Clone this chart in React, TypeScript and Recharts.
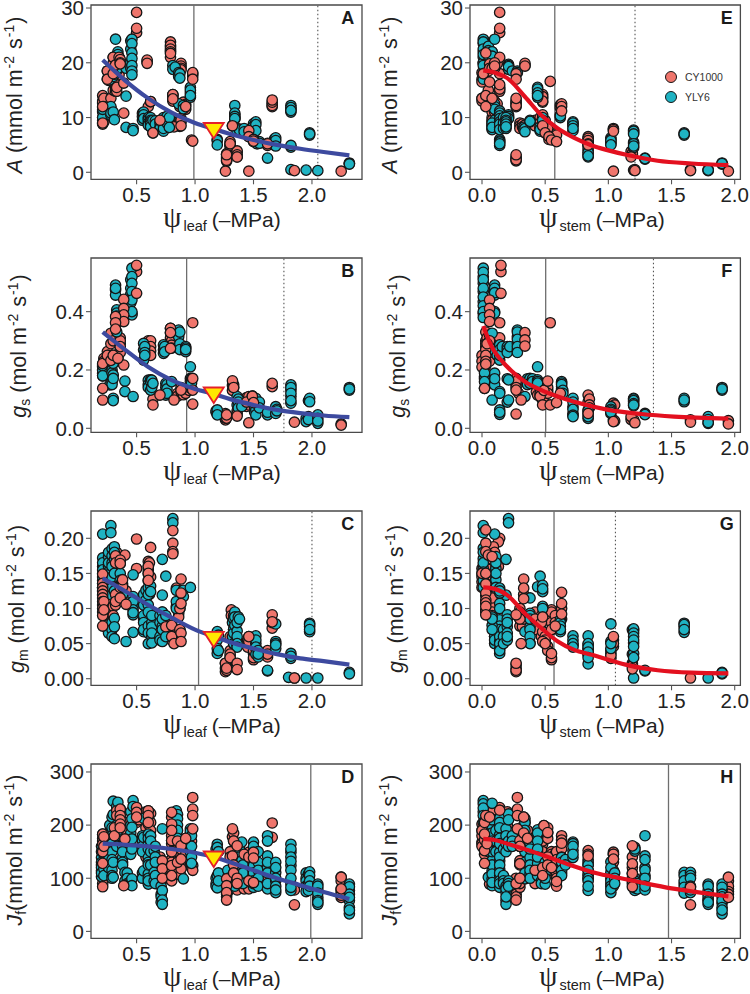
import { ComposedChart, ReferenceArea, ReferenceLine, Scatter, XAxis, YAxis } from "recharts";

// each row is [x, y, y, y...], the water potentials are discrete so points stack in columns
const A_CY = [[0.5, 25.5], [0.21, 14, 12.5, 11.8, 9.5, 9, 13, 12.8, 11.2, 10, 8.8], [0.22, 13.5, 12, 10.5, 9.2], [0.25, 18.5, 17], [0.26, 17.5, 16.8, 18], [0.28, 13.5, 16.9], [0.3, 21, 18, 19.5, 20, 15], [0.32, 16.5, 15.5, 14.8, 17.8], [0.33, 17, 16, 15.5, 14.8], [0.35, 21, 18.5, 17.8], [0.79, 22.9, 22.2, 21], [0.59, 20.2], [0.88, 19.9, 19.4, 19, 18.7, 9.8, 9.2], [0.81, 14.2, 13.5, 14, 13], [0.87, 12, 9.5, 9, 8.4], [0.9, 12.8, 11.8], [0.92, 12.4, 11.5], [0.82, 8.3], [0.97, 5.9], [0.98, 17.6, 18], [0.6, 12], [0.64, 7.2], [0.7, 9.5], [0.62, 12.9], [1.27, 3.2, 2.5, 2, 3.4, 2.8, 2.2], [1.3, 5.2, 4.7, 5.6, 4.9], [1.32, 8.5], [1.36, 3.7, 2.8, 3.9, 3.2], [1.45, 7.2, 6.9], [1.46, 7.6, 6.5], [1.5, 6.3, 5.9, 5.6, 6], [1.62, 5.3, 4.9], [1.66, 12, 12.5, 12.2, 12.8]];
const A_YLY = [[0.21, 11, 10, 11.5], [0.27, 16.9, 17.4, 18], [0.28, 11.7, 10.4, 18, 17.5, 12, 10.8], [0.3, 17.5, 11], [0.31, 9.6, 17.9], [0.32, 24.3], [0.33, 21, 19.5, 18.5], [0.34, 22, 21.5, 20.8, 19], [0.41, 19, 13.9, 8.2], [0.45, 24, 22.5, 20, 19], [0.46, 24.3, 23.5, 21.8, 20.8, 19.5, 18.5, 17.8], [0.47, 8, 7.6], [0.55, 10.8, 10.2, 9.5], [0.56, 11, 10.5, 9.8], [0.6, 10, 9.6, 9, 8.6], [0.62, 10, 9.5, 9.2, 8.5, 8.8, 8.3], [0.64, 9.5], [0.66, 9.4, 8.8], [0.7, 9, 8.2, 8], [0.73, 10, 9.2, 8.5, 7.8, 7.5, 9.5, 8.8, 8], [0.76, 10.2, 9], [0.78, 10, 8.2], [0.81, 19.5, 18.8], [0.83, 19.2], [0.86, 18.2, 17.5, 12.5], [0.87, 18, 17.2], [0.9, 12.2, 11.6], [0.96, 15.5, 14.5, 13.7, 15, 14], [1.19, 6, 5.8, 5], [1.34, 12.2, 10.5, 10, 9.7, 10.8, 10.2, 9.8], [1.36, 8, 7.5], [1.38, 7.9, 7.7], [1.42, 8, 7.4], [1.5, 8.9, 8.4], [1.52, 9.2, 8.7, 7.6], [1.53, 5.5, 5.2], [1.55, 5.6, 5.3], [1.62, 2.6], [1.68, 6.1, 5.2, 5], [1.69, 6.3, 5.8, 4.8], [1.82, 12.2, 11.5, 11, 4.6, 0.5, 11.8, 11.3, 4.9], [1.95, 0.4], [1.98, 7.2, 6.8, 7], [2.05, 0.3], [2.32, 1.7, 1.6, 1.5]];
const A_TOP = [[0.5, 29.2, 26.3], [0.21, 12, 9], [0.25, 18.5, 17], [0.3, 21, 18], [0.32, 19.6], [0.33, 15.5], [0.35, 21], [0.36, 20.6, 20, 19.8], [0.39, 16.3, 10.8], [0.59, 20.5, 19.9], [0.62, 12.9], [0.64, 7.2], [0.7, 9.5], [0.79, 23.8, 23.2, 22.5, 22, 21.7], [0.98, 18.2, 17, 5.7], [0.81, 14.2, 13.4], [0.88, 9.5, 8.5], [0.92, 12], [1.26, 0.2], [1.27, 3.2], [1.3, 5.2], [1.32, 8.5], [1.36, 2.8], [1.46, 7.6, 6.5, 0.2], [1.5, 6, 5.7], [1.62, 5.2], [1.66, 13.2], [1.85, 0.3], [2.25, 0.2]];

const B_CY = [[0.5, 0.537], [0.21, 0.21, 0.19, 0.22, 0.2, 0.18], [0.22, 0.24, 0.23], [0.25, 0.263, 0.246], [0.26, 0.25, 0.235], [0.28, 0.326, 0.29, 0.234], [0.3, 0.3, 0.25, 0.24], [0.33, 0.245, 0.23], [0.34, 0.246, 0.24], [0.36, 0.31, 0.29, 0.3, 0.27, 0.26], [0.58, 0.29, 0.27, 0.25], [0.6, 0.3, 0.29, 0.28, 0.27, 0.26], [0.62, 0.3, 0.28, 0.265, 0.25], [0.79, 0.343, 0.328, 0.31, 0.291], [0.8, 0.33, 0.3, 0.285, 0.275], [0.85, 0.12, 0.11], [0.88, 0.14, 0.125], [0.9, 0.115, 0.13], [0.92, 0.12], [0.95, 0.13, 0.14], [0.64, 0.1], [1.26, 0.029, 0.05, 0.035], [1.27, 0.035], [1.32, 0.148, 0.13], [1.33, 0.15, 0.14], [1.36, 0.06, 0.05], [1.44, 0.105, 0.09, 0.075], [1.46, 0.109, 0.08], [1.49, 0.1, 0.11], [1.66, 0.143]];
const B_YLY = [[0.21, 0.211, 0.189, 0.2, 0.215, 0.18], [0.27, 0.149], [0.29, 0.2, 0.19, 0.16, 0.15], [0.3, 0.223, 0.183, 0.171, 0.103, 0.095], [0.32, 0.491, 0.474, 0.457, 0.48], [0.33, 0.406, 0.331, 0.395, 0.385, 0.36], [0.4, 0.162, 0.126], [0.45, 0.51, 0.48, 0.46, 0.43], [0.46, 0.549, 0.52, 0.497, 0.469, 0.44, 0.394, 0.389, 0.4], [0.47, 0.109], [0.56, 0.291, 0.269, 0.234], [0.57, 0.28, 0.26, 0.25], [0.6, 0.165, 0.15, 0.14], [0.62, 0.166, 0.16, 0.131], [0.63, 0.165, 0.14], [0.64, 0.154], [0.73, 0.286, 0.269, 0.257], [0.74, 0.28, 0.262], [0.75, 0.154, 0.14, 0.126, 0.114], [0.76, 0.15, 0.135, 0.12], [0.8, 0.16], [0.86, 0.337, 0.314, 0.28], [0.87, 0.33, 0.29, 0.27], [0.92, 0.28, 0.263, 0.275, 0.27], [0.96, 0.211, 0.171, 0.16, 0.143], [0.97, 0.17, 0.155], [1.18, 0.055, 0.06], [1.19, 0.063, 0.046], [1.36, 0.109, 0.08], [1.37, 0.1, 0.09, 0.07], [1.4, 0.075], [1.51, 0.095, 0.07, 0.055], [1.52, 0.103, 0.086, 0.063, 0.046], [1.55, 0.09, 0.07], [1.62, 0.046, 0.055], [1.69, 0.074, 0.051], [1.7, 0.065, 0.06], [1.82, 0.149, 0.131, 0.109, 0.086, 0.14, 0.12, 0.095], [1.95, 0.034, 0.023], [1.97, 0.04, 0.03, 0.095], [1.98, 0.103, 0.091], [2.05, 0.046, 0.034, 0.017, 0.025], [2.32, 0.14, 0.131, 0.135]];
const B_TOP = [[0.5, 0.559, 0.463], [0.39, 0.442, 0.411, 0.389, 0.366, 0.217], [0.32, 0.383, 0.362, 0.34], [0.36, 0.28], [0.21, 0.222, 0.137, 0.097], [0.25, 0.25], [0.28, 0.233], [0.3, 0.25], [0.34, 0.24], [0.98, 0.362, 0.171, 0.131, 0.083], [0.79, 0.343, 0.328, 0.274], [0.64, 0.08], [0.7, 0.114], [0.82, 0.097], [0.88, 0.131], [1.32, 0.163], [1.33, 0.14], [1.27, 0.046], [1.36, 0.042], [1.44, 0.09], [1.46, 0.019], [1.49, 0.11], [1.5, 0.088], [1.66, 0.154], [1.85, 0.021], [2.25, 0.015, 0.011]];

const C_CY = [[0.21, 0.136, 0.13, 0.125, 0.14, 0.128, 0.118, 0.105], [0.22, 0.135, 0.13, 0.11, 0.098, 0.09], [0.25, 0.12, 0.115, 0.105, 0.095], [0.29, 0.115, 0.105, 0.08], [0.3, 0.117, 0.11, 0.103, 0.09], [0.32, 0.175, 0.165, 0.12, 0.115, 0.105], [0.33, 0.18, 0.17], [0.36, 0.169, 0.164, 0.13, 0.125, 0.115], [0.38, 0.12, 0.11], [0.41, 0.125], [0.5, 0.157], [0.6, 0.167, 0.155, 0.16, 0.15, 0.14], [0.61, 0.165, 0.12, 0.095], [0.72, 0.095], [0.73, 0.09, 0.08], [0.75, 0.084, 0.074], [0.77, 0.07, 0.06], [0.8, 0.076, 0.067, 0.08, 0.06, 0.055], [0.84, 0.129], [0.86, 0.093, 0.088], [0.87, 0.125, 0.1, 0.07], [0.88, 0.142], [1.26, 0.022, 0.015, 0.01], [1.27, 0.02, 0.012, 0.018], [1.3, 0.03, 0.04, 0.06], [1.31, 0.098, 0.09], [1.33, 0.05, 0.07], [1.45, 0.055, 0.045], [1.46, 0.06, 0.053], [1.5, 0.036, 0.027, 0.03, 0.04], [1.62, 0.04, 0.031, 0.035], [1.66, 0.072, 0.08], [1.85, 0.001]];
const C_YLY = [[0.21, 0.206, 0.172, 0.16, 0.15, 0.165, 0.155, 0.145, 0.13], [0.26, 0.174, 0.16, 0.152, 0.14, 0.065, 0.18, 0.165, 0.148, 0.13, 0.12], [0.28, 0.218, 0.208], [0.29, 0.185, 0.175, 0.165, 0.16, 0.145, 0.13, 0.08, 0.07, 0.06], [0.31, 0.188, 0.17, 0.15, 0.086, 0.074, 0.057, 0.18, 0.125], [0.36, 0.15, 0.14, 0.125], [0.37, 0.136, 0.122], [0.38, 0.135, 0.12], [0.41, 0.053], [0.47, 0.148, 0.117, 0.103, 0.091, 0.066, 0.11, 0.098, 0.094], [0.56, 0.084, 0.067, 0.12, 0.105, 0.09, 0.08, 0.07], [0.58, 0.126, 0.112], [0.6, 0.13, 0.12, 0.105, 0.095, 0.075, 0.065, 0.05], [0.62, 0.132, 0.124], [0.63, 0.08, 0.074, 0.06, 0.051, 0.09, 0.065], [0.7, 0.09, 0.08, 0.06, 0.055], [0.72, 0.17, 0.119, 0.095, 0.075, 0.053, 0.085, 0.07], [0.75, 0.146, 0.09, 0.06], [0.81, 0.228, 0.222], [0.84, 0.103, 0.126, 0.11, 0.1], [0.9, 0.126, 0.117], [0.96, 0.13], [1.19, 0.067, 0.055, 0.043, 0.036], [1.2, 0.062, 0.04], [1.32, 0.08, 0.06], [1.33, 0.09, 0.085, 0.07, 0.065, 0.05], [1.34, 0.095, 0.088, 0.076], [1.37, 0.088], [1.36, 0.068, 0.055, 0.048, 0.08, 0.06, 0.05, 0.045], [1.38, 0.085], [1.52, 0.061, 0.05, 0.043, 0.055, 0.045, 0.035], [1.54, 0.031, 0.04, 0.035], [1.62, 0.011, 0.012], [1.69, 0.078, 0.053, 0.043, 0.05, 0.048], [1.82, 0.036, 0.029, 0.032], [1.8, 0.002], [1.95, 0.001], [1.98, 0.079, 0.074, 0.067, 0.077, 0.07], [2.05, 0.001], [2.32, 0.009, 0.007]];
const C_TOP = [[0.5, 0.199], [0.62, 0.187, 0.145], [0.81, 0.211, 0.193, 0.181, 0.178], [0.4, 0.176], [0.21, 0.149, 0.136, 0.13, 0.125, 0.12, 0.115, 0.11, 0.1, 0.095, 0.09, 0.075], [0.22, 0.11, 0.098], [0.32, 0.175, 0.165, 0.12, 0.11], [0.36, 0.169, 0.164, 0.13, 0.115], [0.38, 0.131, 0.141], [0.41, 0.106], [0.6, 0.16, 0.15, 0.14], [0.75, 0.074], [0.8, 0.076, 0.06], [0.82, 0.05], [0.87, 0.1, 0.07], [0.88, 0.065, 0.053, 0.122, 0.107], [1.26, 0.022], [1.27, 0.015], [1.3, 0.035, 0.03], [1.36, 0.022, 0.013], [1.46, 0.06], [1.66, 0.091, 0.081], [1.85, 0.001]];

const D_CY = [[0.21, 183, 164, 152, 130, 175, 170, 158, 145, 140, 120, 105, 100, 90], [0.22, 178, 160, 150, 135], [0.28, 190, 175, 160, 150], [0.3, 190, 170], [0.31, 215, 195, 180, 170], [0.33, 227, 210, 218, 200, 175], [0.36, 230, 218, 202, 225, 210, 195, 165], [0.4, 205, 190, 170], [0.5, 233, 224, 215, 205], [0.52, 220, 210], [0.58, 225, 210, 195, 140], [0.6, 227, 218, 202], [0.62, 222, 205, 190], [0.7, 140, 125, 110], [0.72, 133, 120, 102], [0.74, 128, 115, 100], [0.8, 171, 136, 124, 95, 215, 180, 165, 150, 130, 115, 105], [0.85, 170, 150, 130, 120, 110], [0.88, 161, 136, 124, 105, 155, 118], [0.92, 175, 165, 145], [0.97, 190, 170, 120], [0.98, 124, 115], [1.27, 99, 86, 73, 105, 92, 80, 65, 70], [1.3, 150, 140], [1.32, 178], [1.33, 185, 170, 125, 110, 95], [1.36, 111, 95, 83, 115, 105, 90, 78], [1.42, 145, 130, 85, 80], [1.46, 149, 86, 140, 95, 80], [1.5, 149, 92, 145, 130, 100, 85], [1.56, 110, 95], [1.62, 89, 100, 85], [1.66, 177], [1.85, 83, 78], [2.25, 102, 80, 64, 95, 75, 70, 68]];
const D_YLY = [[0.2, 139, 114, 103, 125, 160, 150, 130, 120, 110], [0.22, 130, 118, 105], [0.25, 150, 170], [0.26, 185, 170, 150, 135, 120], [0.27, 200], [0.29, 215, 195, 180, 165, 150, 135, 115, 105, 100], [0.3, 245, 220, 130, 102], [0.33, 235, 200, 180, 160], [0.34, 243, 190], [0.38, 139, 160, 150, 130, 125], [0.4, 111, 95], [0.42, 110, 100, 90], [0.45, 225, 200, 185, 165, 145, 95, 90], [0.46, 212, 196, 174, 155, 99, 86], [0.47, 246, 235], [0.55, 180, 170, 160, 150, 110, 100], [0.56, 213, 177, 114], [0.6, 183, 164, 139, 108, 89, 175, 155, 130, 125, 100, 95], [0.62, 180, 170, 150, 125], [0.65, 152, 111, 95], [0.66, 160, 140, 130, 105, 90], [0.71, 85, 70, 65, 55], [0.72, 193, 77, 59, 51], [0.84, 227, 208], [0.85, 220, 212, 200, 190, 175], [0.9, 99], [0.96, 193, 188, 149, 130], [0.97, 180, 160, 140, 128], [1.18, 155, 100, 90, 85], [1.19, 164, 158, 105, 82], [1.2, 150, 110, 95], [1.28, 115, 100, 85, 75], [1.34, 120, 99, 140, 130, 110, 90, 85], [1.38, 155, 140, 125, 100], [1.4, 168, 133], [1.41, 125, 110, 90], [1.5, 168, 152, 124, 102, 83, 160, 140, 110, 95, 90], [1.54, 150, 130, 115, 100, 85], [1.62, 180, 142, 120, 80, 170, 130, 110, 90], [1.69, 130, 111, 95, 73, 120, 100, 85, 78], [1.82, 164, 149, 124, 89, 77, 155, 140, 132, 115, 100, 83], [1.95, 110, 100, 95, 85, 75], [1.97, 108, 89, 77], [1.98, 112, 105, 95, 85], [2.05, 89, 80, 64, 51, 85, 72, 58, 55], [2.32, 89, 77, 58, 33, 84, 70, 64, 45, 40]];
const D_TOP = [[0.98, 252, 230, 218, 193], [0.21, 183, 164, 150, 128, 84], [0.22, 178, 160], [0.31, 195, 180], [0.33, 227, 218], [0.36, 230, 218, 210, 202, 195], [0.4, 174], [0.39, 86], [0.5, 233, 224, 215], [0.6, 227, 218, 205], [0.72, 133, 118, 100], [0.8, 224, 202, 190, 171, 150, 124, 105], [0.85, 170, 130], [0.88, 161, 136], [0.92, 175], [1.27, 99, 86, 73, 59], [1.32, 193, 142], [1.33, 170, 125, 110], [1.36, 161, 100, 90], [1.42, 145], [1.46, 140, 95], [1.5, 149, 138, 92], [1.66, 204], [1.85, 50], [2.25, 102, 80]];

const E_CY = [[0.14, 25.5, 20.5, 15.5, 14.8, 18, 15.2], [0.01, 22, 20, 18], [0.03, 23.8, 23.2, 22.5, 21.5, 22, 20, 19], [0.02, 18.5, 17], [0, 18.2, 17, 13.5, 16.5, 13], [0.05, 20.5, 18.5, 15], [0.08, 10, 9.2, 8.6, 19, 13.5, 11, 9.5], [0.1, 20, 19.4, 13, 19, 12, 11], [0.12, 19.8, 12.5, 10], [0.27, 13, 12.5, 12, 2.5, 2.1, 12.8, 12.2, 2.8, 2.3], [0.3, 9, 8.5, 8], [0.32, 8.8, 8.3], [0.34, 19.5, 8.6], [0.42, 9.5, 8.5], [0.46, 10, 9, 8], [0.48, 14.2, 13.5, 12.8, 13.8, 13, 10.5], [0.5, 9.5, 8, 7.2], [0.53, 7.2, 6.5, 6], [0.55, 7, 7.5], [0.58, 6.2, 7], [0.59, 6.8], [0.52, 8], [0.62, 12.3, 11.8], [0.63, 12.5, 12], [0.84, 6.5, 6, 5.5, 6.2, 5.8, 5.2], [1.04, 8, 7.8], [1.18, 3.8], [1.19, 3.3, 3.5], [1.2, 0.4], [1.21, 0.5]];
const E_YLY = [[0.01, 24.3, 23.5, 21, 20, 17, 23.8, 22.5, 21.5, 19.5, 18], [0.05, 23, 22.2, 21.3], [0.1, 24.3, 12.5, 11.8, 12, 11.5, 9.5], [0.08, 22, 21.5, 8.5, 8, 7.8, 22, 21.2, 9, 8.2], [0.21, 19.7, 19.5, 18.8, 10.5, 10, 19.3, 10.2, 9.8], [0.24, 18.5], [0.28, 18.5, 18.2], [0.14, 11.2, 10, 9.5, 8.2, 6, 5.7, 4.9, 10.8, 10.3, 9.8, 9.2, 8.8, 7.8, 5.5, 5.2], [0.17, 10, 9, 8], [0.19, 10, 9, 8.5, 8, 9.5, 9.2, 8.8, 8.3], [0.33, 8.2, 7.8], [0.34, 8, 7.4], [0.38, 9.5, 9.2, 9.3], [0.44, 15.5, 14.8, 14.3, 13.7, 15.2, 14.5, 14], [0.46, 8, 7.5, 8.3, 7.8], [0.48, 10, 9, 9.5], [0.62, 10.5, 10, 10.3], [0.72, 9.2, 8.7, 7.6, 9, 8.5, 8], [0.84, 5, 4, 3.3, 2.8, 4.5, 3.6, 3], [1.02, 6.3, 6, 5.5, 5.2, 5.8, 5], [1.2, 7.7, 7.2, 5.5, 4.5, 7.5, 7, 5.2, 4.8], [1.29, 2.6, 2.4, 2.5], [1.6, 7.2, 6.8, 7], [1.65, 0.5], [1.79, 0.5, 0.3, 0.4], [1.9, 1.7, 1.5, 1.6]];
const E_TOP = [[0.14, 29.2, 26.3, 21, 16], [0.01, 18], [0, 13.5], [0.03, 21.8, 14, 12], [0.06, 19.8, 19, 16.5], [0.08, 19, 13.5], [0.1, 20, 19.4], [0.34, 19.9, 19.4], [0.27, 18, 17, 13.5, 3.2], [0.48, 8.5], [0.5, 7.2], [0.53, 6.5], [0.54, 16.6], [0.55, 5.9], [0.59, 5.6], [0.63, 11.2], [0.84, 5], [1.04, 7.5, 0.2], [1.18, 2.8], [1.21, 0.3], [1.65, 0.3], [1.95, 0.2]];

const F_CY = [[0.15, 0.537], [0.01, 0.24, 0.22], [0.03, 0.33, 0.3, 0.28, 0.26, 0.24, 0.23, 0.29, 0.27, 0.25, 0.22, 0.215], [0.04, 0.31, 0.29, 0.26], [0, 0.25, 0.23, 0.21], [0.06, 0.3, 0.28, 0.32, 0.25, 0.23], [0.09, 0.3, 0.28, 0.26], [0.12, 0.31, 0.29], [0.14, 0.31], [0.27, 0.171, 0.149, 0.16, 0.14], [0.29, 0.12], [0.43, 0.125], [0.44, 0.114], [0.46, 0.12, 0.11], [0.47, 0.103], [0.49, 0.13, 0.09], [0.52, 0.13, 0.14, 0.12], [0.84, 0.114, 0.091], [0.85, 0.1, 0.08, 0.07], [1.04, 0.086, 0.074, 0.029], [1.05, 0.08, 0.025], [1.18, 0.03], [1.2, 0.03], [1.65, 0.029], [1.95, 0.026]];
const F_YLY = [[0.01, 0.549, 0.52, 0.497, 0.469, 0.434, 0.394, 0.535, 0.51, 0.48, 0.45, 0.42, 0.4, 0.38], [0.1, 0.491, 0.474, 0.457, 0.4, 0.189, 0.149, 0.48, 0.465, 0.395, 0.17], [0.08, 0.326, 0.097], [0.09, 0.269], [0.12, 0.28, 0.25], [0.14, 0.286, 0.234, 0.126, 0.063, 0.048, 0.27, 0.25, 0.055, 0.12], [0.16, 0.28], [0.2, 0.28, 0.27, 0.26, 0.17, 0.09], [0.22, 0.28], [0.28, 0.337, 0.314, 0.291, 0.269, 0.33, 0.305, 0.28, 0.26], [0.02, 0.177, 0.137, 0.17, 0.19, 0.16], [0.21, 0.166, 0.097], [0.34, 0.109], [0.36, 0.17, 0.16, 0.15], [0.38, 0.171, 0.154], [0.4, 0.17, 0.16], [0.44, 0.211, 0.166, 0.149, 0.16, 0.155], [0.63, 0.16, 0.143, 0.155, 0.135, 0.15], [0.64, 0.13, 0.12], [0.72, 0.103, 0.074, 0.051, 0.09, 0.065, 0.045, 0.04], [0.84, 0.063, 0.034, 0.05, 0.04, 0.06], [1.02, 0.074, 0.051, 0.065, 0.06, 0.055], [1.2, 0.103, 0.091, 0.077, 0.1, 0.095, 0.085, 0.08], [1.29, 0.051, 0.047], [1.6, 0.103, 0.091, 0.097], [1.79, 0.04, 0.017, 0.03, 0.02], [1.9, 0.14, 0.131, 0.135]];
const F_TOP = [[0.15, 0.559, 0.463], [0.06, 0.44, 0.411, 0.389, 0.366, 0.3], [0.14, 0.362], [0.54, 0.362], [0.34, 0.328, 0.303, 0.282], [0.03, 0.27, 0.25, 0.23, 0.22], [0.04, 0.29], [0.02, 0.137], [0.27, 0.131], [0.31, 0.097], [0.46, 0.11], [0.49, 0.13], [0.52, 0.162], [0.48, 0.08], [0.54, 0.08], [0.59, 0.088], [0.62, 0.12], [0.84, 0.051], [0.27, 0.049], [1.04, 0.023], [1.18, 0.04], [1.21, 0.019], [1.65, 0.021], [1.95, 0.015]];

const G_CY = [[0.14, 0.2], [0.13, 0.195, 0.16, 0.1], [0.09, 0.188], [0.1, 0.18, 0.16], [0, 0.157, 0.138, 0.15, 0.145, 0.13], [0.03, 0.15, 0.14, 0.16, 0.145, 0.135, 0.118, 0.108, 0.098, 0.095], [0.05, 0.17, 0.13, 0.115, 0.1], [0.08, 0.103, 0.17, 0.115, 0.095, 0.09], [0.3, 0.1, 0.095, 0.085, 0.075], [0.32, 0.079, 0.074], [0.33, 0.12, 0.085], [0.27, 0.015, 0.01, 0.02, 0.012], [0.42, 0.095, 0.085, 0.07], [0.47, 0.09, 0.08, 0.06], [0.48, 0.067], [0.5, 0.06, 0.05, 0.055], [0.52, 0.046, 0.04], [0.55, 0.098, 0.088, 0.027, 0.095, 0.08, 0.07, 0.03], [0.58, 0.09, 0.08, 0.075], [0.63, 0.1, 0.085], [0.84, 0.048, 0.036, 0.043], [1.02, 0.036, 0.029, 0.04, 0.033], [1.04, 0.046, 0.055, 0.05], [1.19, 0.022, 0.02, 0.018]];
const G_YLY = [[0.01, 0.218, 0.208, 0.186, 0.171, 0.157, 0.148, 0.18, 0.165, 0.152, 0.14, 0.13], [0.1, 0.206, 0.069, 0.06, 0.05, 0.08, 0.075, 0.06, 0.055], [0.21, 0.228, 0.222], [0.19, 0.17, 0.119], [0.11, 0.174, 0.157, 0.141, 0.165, 0.15, 0.13], [0.14, 0.129, 0.122, 0.107, 0.084, 0.067, 0.053, 0.043, 0.036, 0.125, 0.1, 0.075, 0.07, 0.06, 0.05, 0.04], [0.08, 0.088, 0.076, 0.07, 0.085], [0.17, 0.07, 0.06, 0.05], [0.2, 0.091, 0.074, 0.055, 0.085, 0.08, 0.065, 0.06], [0.34, 0.067], [0.38, 0.115, 0.093, 0.074, 0.051, 0.09, 0.085, 0.07, 0.06, 0.05], [0.44, 0.131], [0.46, 0.146], [0.48, 0.133, 0.124, 0.103, 0.128, 0.1], [0.62, 0.084, 0.067, 0.08, 0.075, 0.07], [0.72, 0.061, 0.048, 0.055, 0.05, 0.045], [0.84, 0.061, 0.041, 0.034, 0.021, 0.05, 0.045, 0.038, 0.03], [1.02, 0.078, 0.053, 0.043, 0.05], [1.19, 0.07, 0.035], [1.2, 0.069, 0.051, 0.036, 0.001, 0.071, 0.065, 0.06, 0.055, 0.046, 0.03], [1.29, 0.011, 0.012], [1.6, 0.079, 0.074, 0.066, 0.077, 0.07], [1.79, 0.001], [1.9, 0.009, 0.007, 0.008]];
const G_TOP = [[0, 0.15], [0.03, 0.212, 0.193, 0.181, 0.15, 0.135, 0.122, 0.112, 0.108, 0.103, 0.091], [0.05, 0.176], [0.08, 0.174], [0.3, 0.085], [0.33, 0.142, 0.129, 0.114], [0.27, 0.091, 0.022], [0.31, 0.05], [0.42, 0.085], [0.47, 0.08], [0.48, 0.088, 0.053], [0.5, 0.05], [0.55, 0.07, 0.036], [0.58, 0.075], [0.63, 0.123, 0.107, 0.092], [1.04, 0.06], [1.19, 0.014], [1.65, 0.001]];

const H_CY = [[0.14, 233, 224, 228, 210, 185, 170], [0.03, 224, 218, 202], [0.04, 230, 210, 195, 165, 150], [0.06, 218, 89], [0.08, 225, 205, 190, 170], [0.1, 210, 195], [0, 202, 168, 190, 180, 165, 160], [0.02, 183, 152, 205, 195, 172, 145], [0.2, 225, 200], [0.27, 95, 77, 100, 90, 85, 70, 65], [0.3, 171, 133, 127, 95, 83, 160, 125, 100, 90], [0.33, 215, 200, 185], [0.34, 205, 190], [0.36, 190, 175, 170, 110], [0.42, 140, 125, 115, 100, 90], [0.48, 164, 120, 190, 170, 150, 115, 100], [0.49, 199], [0.52, 186, 195, 175, 140, 125, 110], [0.55, 150, 140, 145, 130, 115], [0.58, 146], [0.59, 109, 150, 135, 85, 100], [0.63, 180, 166, 172, 155, 140, 110], [0.84, 152, 99, 145, 135, 125, 115, 105], [1.04, 149, 136, 145, 130, 115, 105, 95, 85], [1.19, 109, 140, 120, 100, 95, 90], [1.95, 80, 95, 85, 75, 70]];
const H_YLY = [[0.01, 246, 225, 240, 232, 218, 205, 190], [0.03, 210, 195], [0.05, 102, 190, 180, 170, 150], [0.08, 241, 199, 133, 114, 99, 86, 210, 185, 170, 150, 125, 108, 92], [0.11, 190, 170, 150], [0.14, 213, 182, 149, 133, 117, 105, 83, 205, 195, 175, 165, 140, 125, 110, 95, 90], [0.17, 155, 105, 95, 90], [0.19, 193, 73, 58, 51, 180, 165, 150, 85, 80, 65], [0.21, 221, 95, 210, 170, 160, 90, 85], [0.24, 180, 170, 160], [0.34, 212, 155, 99, 205, 190, 170, 150, 130, 110], [0.38, 139, 108, 165, 155, 125, 115, 100], [0.44, 191, 177, 149, 128, 185, 170, 155, 140, 115, 105], [0.47, 95, 90], [0.5, 89, 130, 110, 100], [0.63, 139, 124, 130, 115, 105], [0.66, 135, 125], [0.72, 168, 152, 139, 165, 160, 145], [0.84, 108, 77, 130, 125, 115, 100, 95, 85], [1.02, 131, 111, 89, 73, 120, 100, 95, 85, 80], [1.05, 110, 100, 90], [1.21, 158, 151, 77, 155, 100, 95, 88, 82], [1.23, 90, 80], [1.29, 180, 142, 120, 105, 78, 135, 115, 100, 85], [1.6, 111, 89, 77, 105, 95, 83, 72], [1.65, 111, 105, 73, 100, 85, 78], [1.79, 89, 77, 60, 51, 85, 70, 65, 58, 55], [1.9, 89, 77, 53, 33, 83, 70, 65, 58, 45, 40]];
const H_TOP = [[0, 190], [0.02, 205, 183, 152, 128], [0.03, 218], [0.04, 165], [0.06, 215], [0.14, 228], [0.28, 252, 230, 218, 193], [0.27, 90, 59], [0.3, 171, 160, 127, 100], [0.33, 215, 185], [0.36, 175], [0.42, 115], [0.48, 120, 105], [0.49, 199], [0.52, 186, 140, 125], [0.55, 120], [0.59, 94], [0.63, 166], [0.84, 142], [1.04, 145, 136], [1.19, 161, 127, 109, 84], [1.65, 83, 50], [1.95, 102, 64]];

const curveA = [[0.21, 20.5], [0.4, 16.8], [0.6, 13.5], [0.8, 10.9], [1, 9], [1.16, 7.9], [1.3, 7], [1.5, 5.9], [1.7, 5], [1.9, 4.3], [2.1, 3.7], [2.32, 3.1]];
const curveB = [[0.21, 0.33], [0.4, 0.27], [0.6, 0.21], [0.8, 0.165], [1, 0.135], [1.16, 0.118], [1.3, 0.1], [1.5, 0.08], [1.7, 0.063], [1.9, 0.052], [2.1, 0.044], [2.32, 0.038]];
const curveC = [[0.21, 0.143], [0.4, 0.125], [0.6, 0.105], [0.8, 0.087], [1, 0.07], [1.16, 0.06], [1.3, 0.052], [1.5, 0.043], [1.7, 0.035], [1.9, 0.029], [2.1, 0.025], [2.32, 0.02]];
const curveD = [[0.21, 165], [0.4, 163], [0.6, 160], [0.8, 155], [1, 148], [1.16, 140], [1.3, 130], [1.5, 115], [1.7, 100], [1.9, 87], [2.1, 74], [2.32, 61]];
const curveE = [[0.01, 18.6], [0.1, 18.2], [0.2, 17.2], [0.34, 13.8], [0.47, 10.4], [0.6, 8], [0.73, 6.3], [0.87, 4.9], [1, 4], [1.16, 3.1], [1.39, 2.1], [1.66, 1.6], [1.95, 1.3]];
const curveF = [[0.01, 0.351], [0.07, 0.286], [0.2, 0.211], [0.34, 0.16], [0.47, 0.131], [0.6, 0.109], [0.73, 0.091], [1, 0.063], [1.26, 0.049], [1.52, 0.04], [1.95, 0.033]];
const curveG = [[0.01, 0.13], [0.1, 0.128], [0.2, 0.119], [0.34, 0.093], [0.47, 0.072], [0.6, 0.053], [0.73, 0.041], [0.87, 0.034], [1, 0.027], [1.16, 0.019], [1.39, 0.012], [1.66, 0.0086], [1.95, 0.0076]];
const curveH = [[0.01, 174], [0.1, 172], [0.2, 165], [0.3, 158], [0.4, 150], [0.5, 142], [0.7, 125], [0.9, 110], [1.1, 100], [1.3, 90], [1.5, 81], [1.7, 74], [1.95, 66]];

const leafTicks = [0.5, 1, 1.5, 2];
const stemTicks = [0, 0.5, 1, 1.5, 2];
const aTicks = [0, 10, 20, 30];
const gsTicks = [0, 0.2, 0.4];
const gmTicks = [0, 0.05, 0.1, 0.15, 0.2];
const jTicks = [0, 100, 200, 300];

const SALMON = "#EF756C";
const TEAL = "#1FB3C3";
const BLUE = "#3D4A9F";
const RED = "#E3101F";
const FONT = "'Liberation Sans', Arial, sans-serif";

const rows = (cols: number[][]) => cols.flatMap(([x, ...ys]) => ys.map((y) => ({ x, y })));

const Dot = (props: any) => (
  <circle cx={props.cx} cy={props.cy} r={5.2} fill={props.fill} stroke="#161616" strokeWidth={1.3} />
);

const Marker = (props: any) => (
  <polygon
    points={`${props.cx - 10},${props.cy - 5.5} ${props.cx + 10},${props.cy - 5.5} ${props.cx},${props.cy + 10}`}
    fill="#FFE800"
    stroke="#E5202A"
    strokeWidth={1.8}
  />
);

const NoDot = () => null;

const sup = { fontSize: 14, verticalAlign: "baseline", position: "relative", top: -8, margin: "0 1px" } as const;
const sub = { fontSize: 14, verticalAlign: "baseline", position: "relative", top: 4 } as const;

const unit = (u: string) => (
  <>
    {`(${u} m`}
    <span style={sup}>-2</span>
    {" s"}
    <span style={sup}>-1</span>
    {")"}
  </>
);

const aLabel = <><i>A</i> {unit("mmol")}</>;
const gsLabel = <><i>g</i><span style={sub}>s</span> {unit("mol")}</>;
const gmLabel = <><i>g</i><span style={sub}>m</span> {unit("mol")}</>;
const jLabel = <><i>J</i><span style={sub}>f</span>{unit("mmol")}</>;

type Panel = {
  id: string; left: number; top: number; stem: boolean;
  yDomain: number[]; yTicks: number[]; digits: number;
  solid: number; dotted?: number; curve: number[][]; marker?: number;
  cy: number[][]; yly: number[][]; over: number[][]; label: any; labelY: number; labelX: number;
};

const leftL = 90.7;
const leftR = 470.3;
const panels: Panel[] = [
  { id: "A", left: leftL, top: 5, stem: false, yDomain: [-1.28, 30.55], yTicks: aTicks, digits: 0, solid: 0.99, dotted: 2.05, curve: curveA, marker: 8, cy: A_CY, yly: A_YLY, over: A_TOP, label: aLabel, labelY: 95, labelX: 15 },
  { id: "B", left: leftL, top: 258, stem: false, yDomain: [-0.0137, 0.584], yTicks: gsTicks, digits: 1, solid: 0.928, dotted: 1.76, curve: curveB, marker: 0.121, cy: B_CY, yly: B_YLY, over: B_TOP, label: gsLabel, labelY: 346, labelX: 19 },
  { id: "C", left: leftL, top: 511, stem: false, yDomain: [-0.0094, 0.2389], yTicks: gmTicks, digits: 2, solid: 1.03, dotted: 2, curve: curveC, marker: 0.059, cy: C_CY, yly: C_YLY, over: C_TOP, label: gmLabel, labelY: 599, labelX: 17 },
  { id: "D", left: leftL, top: 764, stem: false, yDomain: [-13, 315], yTicks: jTicks, digits: 0, solid: 1.99, curve: curveD, marker: 140, cy: D_CY, yly: D_YLY, over: D_TOP, label: jLabel, labelY: 850, labelX: 15 },
  { id: "E", left: leftR, top: 5, stem: true, yDomain: [-1.28, 30.55], yTicks: aTicks, digits: 0, solid: 0.576, dotted: 1.211, curve: curveE, cy: E_CY, yly: E_YLY, over: E_TOP, label: aLabel, labelY: 95, labelX: 390 },
  { id: "F", left: leftR, top: 258, stem: true, yDomain: [-0.0137, 0.584], yTicks: gsTicks, digits: 1, solid: 0.504, dotted: 1.357, curve: curveF, cy: F_CY, yly: F_YLY, over: F_TOP, label: gsLabel, labelY: 346, labelX: 398 },
  { id: "G", left: leftR, top: 511, stem: true, yDomain: [-0.0094, 0.2389], yTicks: gmTicks, digits: 2, solid: 0.57, dotted: 1.056, curve: curveG, cy: G_CY, yly: G_YLY, over: G_TOP, label: gmLabel, labelY: 599, labelX: 396 },
  { id: "H", left: leftR, top: 764, stem: true, yDomain: [-13, 315], yTicks: jTicks, digits: 0, solid: 1.476, curve: curveH, cy: H_CY, yly: H_YLY, over: H_TOP, label: jLabel, labelY: 850, labelX: 390 },
];

const PLOT_W = 271;
const PLOT_H = 174.3;
const AXIS_W = 62;
const AXIS_H = 30;
const PAD_TOP = 5;
const PAD_RIGHT = 9;

function Chart({ p }: { p: Panel }) {
  const xDomain = p.stem ? [-0.095, 2.045] : [0.11, 2.428];
  const xTicks = p.stem ? stemTicks : leafTicks;
  const width = p.stem ? 270.4 : PLOT_W;
  const tick = { fontSize: 20.5, fill: "#222", fontFamily: FONT };
  return (
    <div style={{ position: "absolute", left: p.left - AXIS_W, top: p.top - PAD_TOP }}>
      <ComposedChart
        width={width + AXIS_W + PAD_RIGHT}
        height={PLOT_H + AXIS_H + PAD_TOP}
        margin={{ top: PAD_TOP, right: PAD_RIGHT, bottom: 0, left: 0 }}
      >
        <XAxis
          type="number"
          dataKey="x"
          domain={xDomain}
          ticks={xTicks}
          allowDataOverflow
          height={AXIS_H}
          interval={0}
          tickFormatter={(v: number) => v.toFixed(1)}
          tick={tick}
          tickSize={5}
          tickMargin={3}
          axisLine={false}
          tickLine={{ stroke: "#555", strokeWidth: 1.1 }}
        />
        <YAxis
          type="number"
          dataKey="y"
          domain={p.yDomain}
          ticks={p.yTicks}
          allowDataOverflow
          width={AXIS_W}
          interval={0}
          tickFormatter={(v: number) => v.toFixed(p.digits)}
          tick={tick}
          tickSize={5}
          tickMargin={2}
          axisLine={false}
          tickLine={{ stroke: "#555", strokeWidth: 1.1 }}
        />
        <ReferenceArea x1={xDomain[0]} x2={xDomain[1]} y1={p.yDomain[0]} y2={p.yDomain[1]} fill="none" stroke="#4a4a4a" strokeWidth={1.3} />
        <ReferenceLine x={p.solid} stroke="#6e6e6e" strokeWidth={1.3} />
        {p.dotted !== undefined && <ReferenceLine x={p.dotted} stroke="#555" strokeWidth={1.1} strokeDasharray="1.5 2.5" />}
        <Scatter data={rows(p.cy)} fill={SALMON} shape={Dot} isAnimationActive={false} />
        <Scatter data={rows(p.yly)} fill={TEAL} shape={Dot} isAnimationActive={false} />
        <Scatter data={rows(p.over)} fill={SALMON} shape={Dot} isAnimationActive={false} />
        {/* a Line would be painted under the scatters, so the fit goes through a point-less Scatter */}
        <Scatter
          data={p.curve.map(([x, y]) => ({ x, y }))}
          shape={NoDot}
          line={{ stroke: p.stem ? RED : BLUE, strokeWidth: 4.2 }}
          lineJointType="monotone"
          isAnimationActive={false}
        />
        {p.marker !== undefined && <Scatter data={[{ x: 1.16, y: p.marker }]} shape={Marker} isAnimationActive={false} />}
      </ComposedChart>
    </div>
  );
}

function Texts({ p }: { p: Panel }) {
  const right = p.left + (p.stem ? 270.4 : PLOT_W);
  const center = p.stem ? 602 : 222;
  return (
    <>
      <div style={{ position: "absolute", left: right - 24, width: 20, textAlign: "center", top: p.top + 3, fontSize: 18, fontWeight: 700, color: "#1a1a1a" }}>{p.id}</div>
      <div style={{ position: "absolute", left: center, top: p.top + 197, transform: "translateX(-50%)", whiteSpace: "nowrap", fontSize: 21, color: "#222", lineHeight: "30px" }}>
        <span style={{ fontSize: 29, fontFamily: "'Liberation Serif', serif" }}>ψ</span>
        <span style={{ fontSize: 14.5, position: "relative", top: 4, margin: "0 5px 0 2px" }}>{p.stem ? "stem" : "leaf"}</span>
        (–MPa)
      </div>
      <div style={{ position: "absolute", left: p.labelX, top: p.labelY, transform: "translate(-50%, -50%) rotate(-90deg)", whiteSpace: "nowrap", fontSize: 21.5, color: "#222" }}>
        {p.label}
      </div>
    </>
  );
}

const legendItems = [{ name: "CY1000", fill: SALMON, top: 71 }, { name: "YLY6", fill: TEAL, top: 91 }];

export default function App() {
  return (
    <div style={{ position: "absolute", left: 0, top: 0, width: 750, height: 994, background: "#fff", fontFamily: FONT, overflow: "hidden" }}>
      {panels.map((p) => <Chart key={p.id} p={p} />)}
      {panels.map((p) => <Texts key={p.id} p={p} />)}
      {legendItems.map((l) => (
        <div key={l.name} style={{ position: "absolute", left: 665, top: l.top, display: "flex", alignItems: "center", fontSize: 10.5, color: "#333", height: 12 }}>
          <span style={{ width: 10, height: 10, borderRadius: "50%", background: l.fill, border: "1.2px solid #161616", marginRight: 8 }} />
          {l.name}
        </div>
      ))}
    </div>
  );
}
